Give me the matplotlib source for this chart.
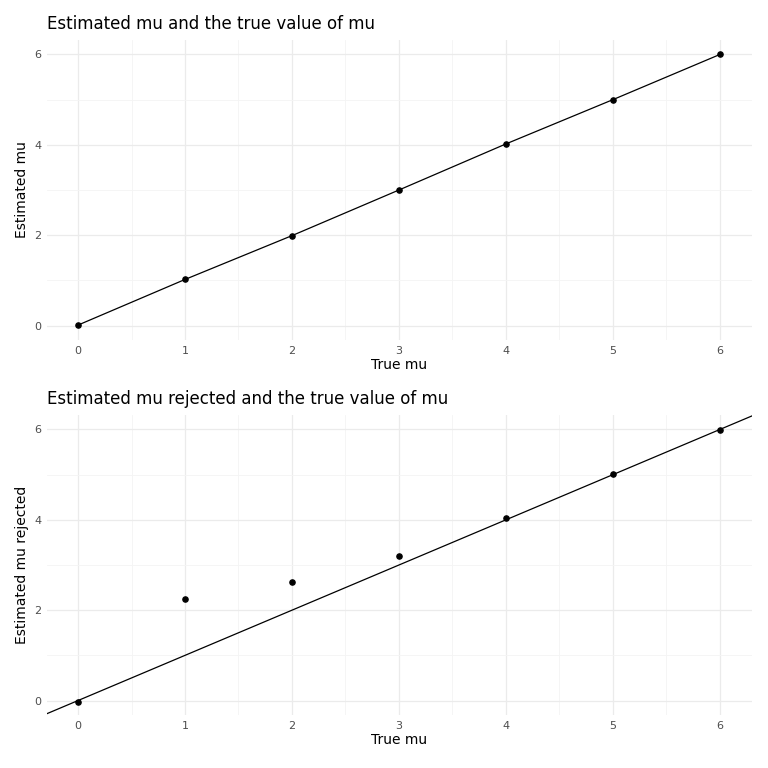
import numpy as np
import matplotlib.pyplot as plt

true_mu = [0, 1, 2, 3, 4, 5, 6]
est_mu = [0.01, 1.02, 1.99, 3.00, 4.02, 5.00, 6.00]
est_mu_rejected = [-0.03, 2.25, 2.62, 3.20, 4.03, 5.01, 5.98]

def style(ax, xlabel, ylabel, title):
    ax.set_xticks(range(7))
    ax.set_yticks([0, 2, 4, 6])
    ax.set_xticks(np.arange(0.5, 6.0, 1), minor=True)
    ax.set_yticks([1, 3, 5], minor=True)
    ax.set_xlim(-0.29, 6.3)
    ax.set_ylim(-0.32, 6.32)
    ax.grid(True, which='major', color='#ebebeb', lw=0.9)
    ax.grid(True, which='minor', color='#f4f4f4', lw=0.6)
    ax.set_axisbelow(True)
    for s in ax.spines.values():
        s.set_visible(False)
    ax.tick_params(which='both', length=0, labelsize=8, colors='#4d4d4d', pad=4)
    ax.set_xlabel(xlabel, fontsize=10, labelpad=2)
    ax.set_ylabel(ylabel, fontsize=10, labelpad=4)
    ax.set_title(title, loc='left', fontsize=12, pad=8)

fig = plt.figure(figsize=(7.68, 7.68), dpi=100)
ax1 = fig.add_axes([47/768, 1-340/768, 705/768, 300/768])
ax2 = fig.add_axes([47/768, 1-715/768, 705/768, 300/768])

ax1.plot(true_mu, est_mu, color='black', lw=0.9)
ax1.scatter(true_mu, est_mu, color='black', s=14, zorder=3)
style(ax1, 'True mu', 'Estimated mu', 'Estimated mu and the true value of mu')

ax2.axline((0, 0), slope=1, color='black', lw=0.9)
ax2.scatter(true_mu, est_mu_rejected, color='black', s=14, zorder=3)
style(ax2, 'True mu', 'Estimated mu rejected', 'Estimated mu rejected and the true value of mu')

fig.savefig('out.png', dpi=100)
